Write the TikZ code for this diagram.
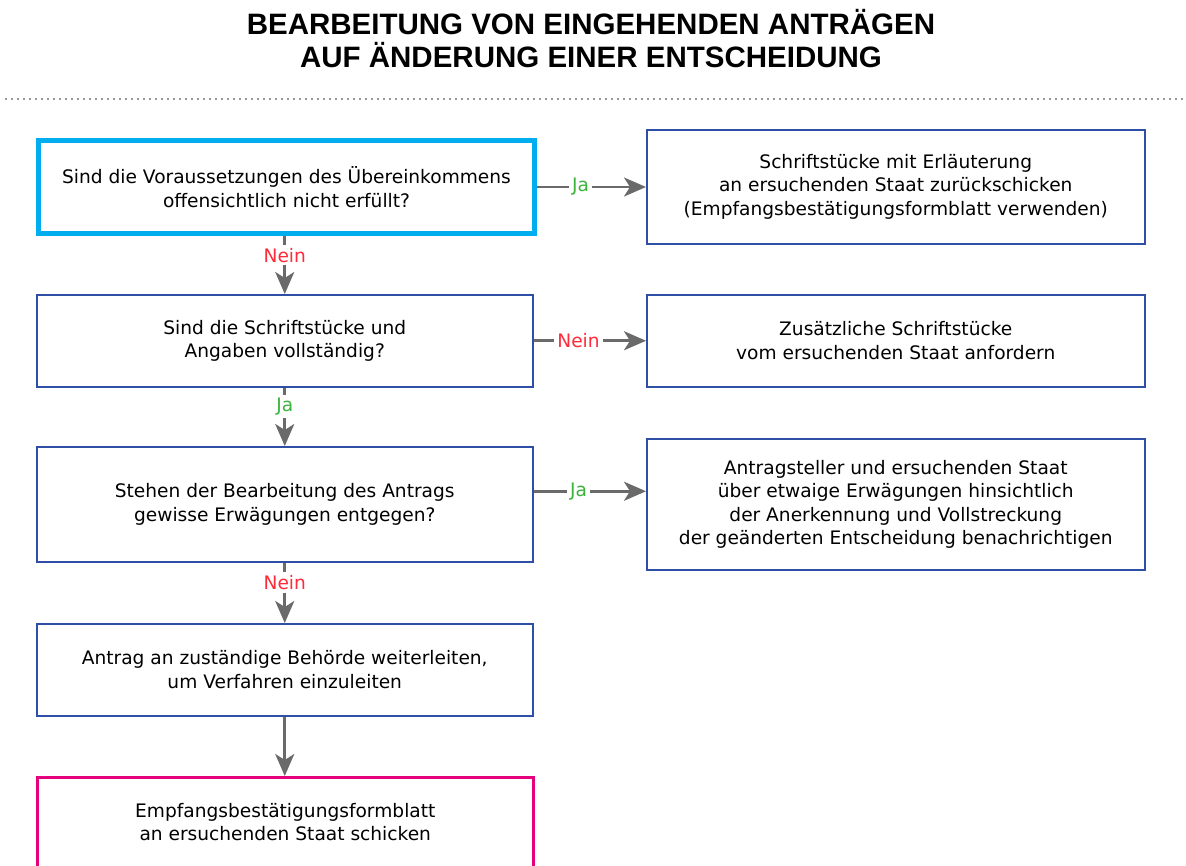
\documentclass[tikz,border=0pt]{standalone}
\usepackage{fontspec}
\setmainfont{DejaVu Sans}
\newfontfamily\titlefont{Liberation Sans}
\usetikzlibrary{calc}
\usetikzlibrary{math}
\usetikzlibrary{arrows.meta}
\definecolor{FlowCyan}{HTML}{00AEEF}
\definecolor{FlowBlue}{HTML}{2F4FA6}
\definecolor{FlowMagenta}{HTML}{E5007D}
\definecolor{FlowGray}{HTML}{6A6A6A}
\definecolor{FlowGreen}{HTML}{3DB33D}
\definecolor{FlowRed}{HTML}{FF2A3A}
\newcommand{\boxfont}{\fontsize{18.6}{23.5}\selectfont}

\begin{document}
\begin{tikzpicture}[x=1pt, y=-1pt,
    box/.style={draw=FlowBlue, line width=1.5pt, fill=white, align=center,
        inner sep=0pt, font=\boxfont, anchor=north west},
    flow/.style={draw=FlowGray, line width=2.8pt,
        -{Stealth[length=22pt, width=19pt, inset=6pt]}},
    yes/.style={fill=white, text=FlowGreen, font=\boxfont, inner sep=3pt},
    no/.style={fill=white, text=FlowRed, font=\boxfont, inner sep=3pt}]
    
    \tikzmath {
        \leftX = 36;
        \rightX = 646;
        \leftW = 496;
        \rightW = 498;
    }
    
    \useasboundingbox (0,0) rectangle (1186,865);
    \clip (0,0) rectangle (1186,865);
    
    \node[font=\titlefont\bfseries\fontsize{29.5}{33}\selectfont, align=center] (title) at (591,39)
        {BEARBEITUNG VON EINGEHENDEN ANTRÄGEN\\AUF ÄNDERUNG EINER ENTSCHEIDUNG};
    \draw[FlowGray!70, line width=1.5pt, dash pattern=on 1.5pt off 4.5pt] (5,99) -- (1186,99);
    
    % linke Spalte
    \node[box, draw=FlowCyan, line width=5pt, minimum width=\leftW pt, minimum height=93pt] (check)
        at (\leftX,138) {Sind die Voraussetzungen des Übereinkommens\\offensichtlich nicht erfüllt?};
    \node[box, minimum width=\leftW pt, minimum height=92pt] (complete)
        at (\leftX,294) {Sind die Schriftstücke und\\Angaben vollständig?};
    \node[box, minimum width=\leftW pt, minimum height=115pt] (concerns)
        at (\leftX,446) {Stehen der Bearbeitung des Antrags\\gewisse Erwägungen entgegen?};
    \node[box, minimum width=\leftW pt, minimum height=92pt] (forward)
        at (\leftX,623) {Antrag an zuständige Behörde weiterleiten,\\um Verfahren einzuleiten};
    \node[box, draw=FlowMagenta, line width=2.5pt, minimum width=\leftW pt, minimum height=90pt] (receipt)
        at (\leftX,776) {Empfangsbestätigungsformblatt\\an ersuchenden Staat schicken};
    
    % rechte Spalte
    \node[box, minimum width=\rightW pt, minimum height=114pt] (return)
        at (\rightX,129) {Schriftstücke mit Erläuterung\\an ersuchenden Staat zurückschicken\\(Empfangsbestätigungsformblatt verwenden)};
    \node[box, minimum width=\rightW pt, minimum height=92pt] (request)
        at (\rightX,294) {Zusätzliche Schriftstücke\\vom ersuchenden Staat anfordern};
    \node[box, minimum width=\rightW pt, minimum height=131pt] (notify)
        at (\rightX,438) {Antragsteller und ersuchenden Staat\\über etwaige Erwägungen hinsichtlich\\der Anerkennung und Vollstreckung\\der geänderten Entscheidung benachrichtigen};
    
    \draw[flow] (check.east) -- node[yes, pos=0.4] {Ja} (return.west |- check.east);
    \draw[flow] (complete.east) -- node[no, pos=0.4] {Nein} (request.west);
    \draw[flow] ([yshift=13pt]concerns.east) -- node[yes, pos=0.4] {Ja} ([yshift=13pt]notify.west);
    
    \draw[flow] (complete.north |- check.south) -- node[no, pos=0.33] {Nein} (complete.north);
    \draw[flow] (complete.south) -- node[yes, pos=0.33] {Ja} (concerns.north);
    \draw[flow] (concerns.south) -- node[no, pos=0.33] {Nein} (forward.north);
    \draw[flow] (forward.south) -- (forward.south |- receipt.north);
    
\end{tikzpicture}
\end{document}
